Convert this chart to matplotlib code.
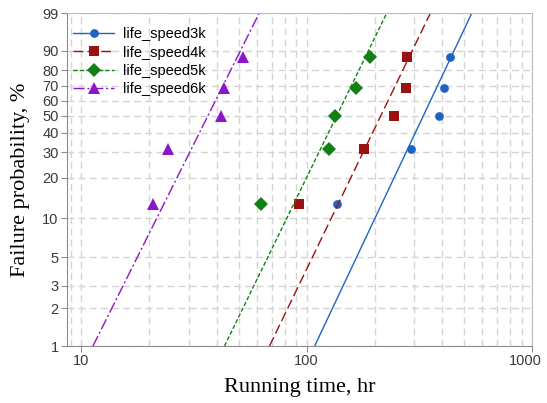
import numpy as np
import matplotlib.pyplot as plt
import matplotlib.transforms as mtransforms

# Failure probabilities (%) shared by all series
prob = [12.9, 31.5, 50.0, 68.5, 87.1]

# Running times (hr)
t_3k = [137, 291, 386, 406, 432]
t_4k = [92.5, 179, 243, 275, 278]
t_5k = [62.5, 126, 133, 166, 191]
t_6k = [20.9, 24.4, 41.9, 43.2, 52.0]

# Fitted Weibull lines (shape, scale)
beta = [3.82, 3.73, 3.70, 3.61]
eta = [362, 235, 150, 40.4]

labels = ['life_speed3k', 'life_speed4k', 'life_speed5k', 'life_speed6k']
colors = ['#1f64c4', '#9b1111', '#128012', '#8a16c8']
markers = ['o', 's', 'D', '^']
msizes = [6.3, 6.8, 7, 8.5]
dashes = [None, (7, 3), (3, 1.6), (8, 2, 1.5, 2)]

y_ticks = [1, 2, 3, 5, 10, 20, 30, 40, 50, 60, 70, 80, 90, 99]

plt.rcParams['font.family'] = ['Liberation Sans', 'DejaVu Sans']


def fwd(p):
    p = np.clip(np.asarray(p, dtype=float), 1e-6, 100 - 1e-6)
    return np.log(-np.log(1 - p / 100.0))


def inv(y):
    return 100.0 * (1 - np.exp(-np.exp(y)))


fig = plt.figure(figsize=(5.47, 4.03), dpi=100)
ax = fig.add_axes([0.1225, 0.1414, 0.8505, 0.8263])
ax.set_xscale('log')
ax.set_yscale('function', functions=(fwd, inv))

series_t = [t_3k, t_4k, t_5k, t_6k]
p_line = np.linspace(1, 99, 300)
for i in range(4):
    # fitted line: t = eta * (-ln(1-F))^(1/beta)
    t_line = eta[i] * (-np.log(1 - p_line / 100.0)) ** (1.0 / beta[i])
    ln, = ax.plot(t_line, p_line, color=colors[i], lw=1.0)
    if dashes[i] is not None:
        ln.set_dashes(dashes[i])
    ax.plot(series_t[i], prob, linestyle='none', marker=markers[i],
            color=colors[i], markersize=msizes[i], markeredgewidth=0)
    # legend proxy
    h, = ax.plot([], [], color=colors[i], lw=1.0, marker=markers[i],
                 markersize=msizes[i], markeredgewidth=0, label=labels[i])
    if dashes[i] is not None:
        h.set_dashes(dashes[i])

ax.set_xlim(8.67, 1000)
ax.set_ylim(1, 99)
ax.set_yticks(y_ticks)
ax.set_yticklabels([str(v) for v in y_ticks])
ax.set_xticks([10, 100, 1000])
ax.set_xticklabels(['10', '100', '1000'])
ax.set_xticks([9] + [k * 10 for k in range(2, 10)] + [k * 100 for k in range(2, 10)], minor=True)
ax.tick_params(axis='x', which='minor', length=0)
ax.tick_params(axis='both', which='major', length=4, color='#909090',
               labelcolor='#3a3a3a', labelsize=10.5, pad=2)
ax.yaxis.set_minor_locator(plt.NullLocator())

# nudge the last x label so it stays inside the figure
last = ax.get_xticklabels()[-1]
last.set_transform(last.get_transform() +
                   mtransforms.ScaledTranslation(-5 / 72, 0, fig.dpi_scale_trans))

ax.grid(True, which='both', color='#d4d4d4', linestyle=(0, (5, 3)), linewidth=1.0)
ax.set_axisbelow(True)

for side in ['top', 'right']:
    ax.spines[side].set_color('#bdbdbd')
for side in ['left', 'bottom']:
    ax.spines[side].set_color('#8c8c8c')

ax.set_xlabel('Running time, hr', family='Liberation Serif', fontsize=16, labelpad=7)
ax.set_ylabel('Failure probability, %', family='Liberation Serif', fontsize=16, labelpad=9)

ax.legend(loc='upper left', bbox_to_anchor=(0.001, 0.975), frameon=False,
          fontsize=10.5, handlelength=2.8, labelspacing=0.3, borderaxespad=0,
          handletextpad=0.6)

fig.savefig('out.png', dpi=100)
